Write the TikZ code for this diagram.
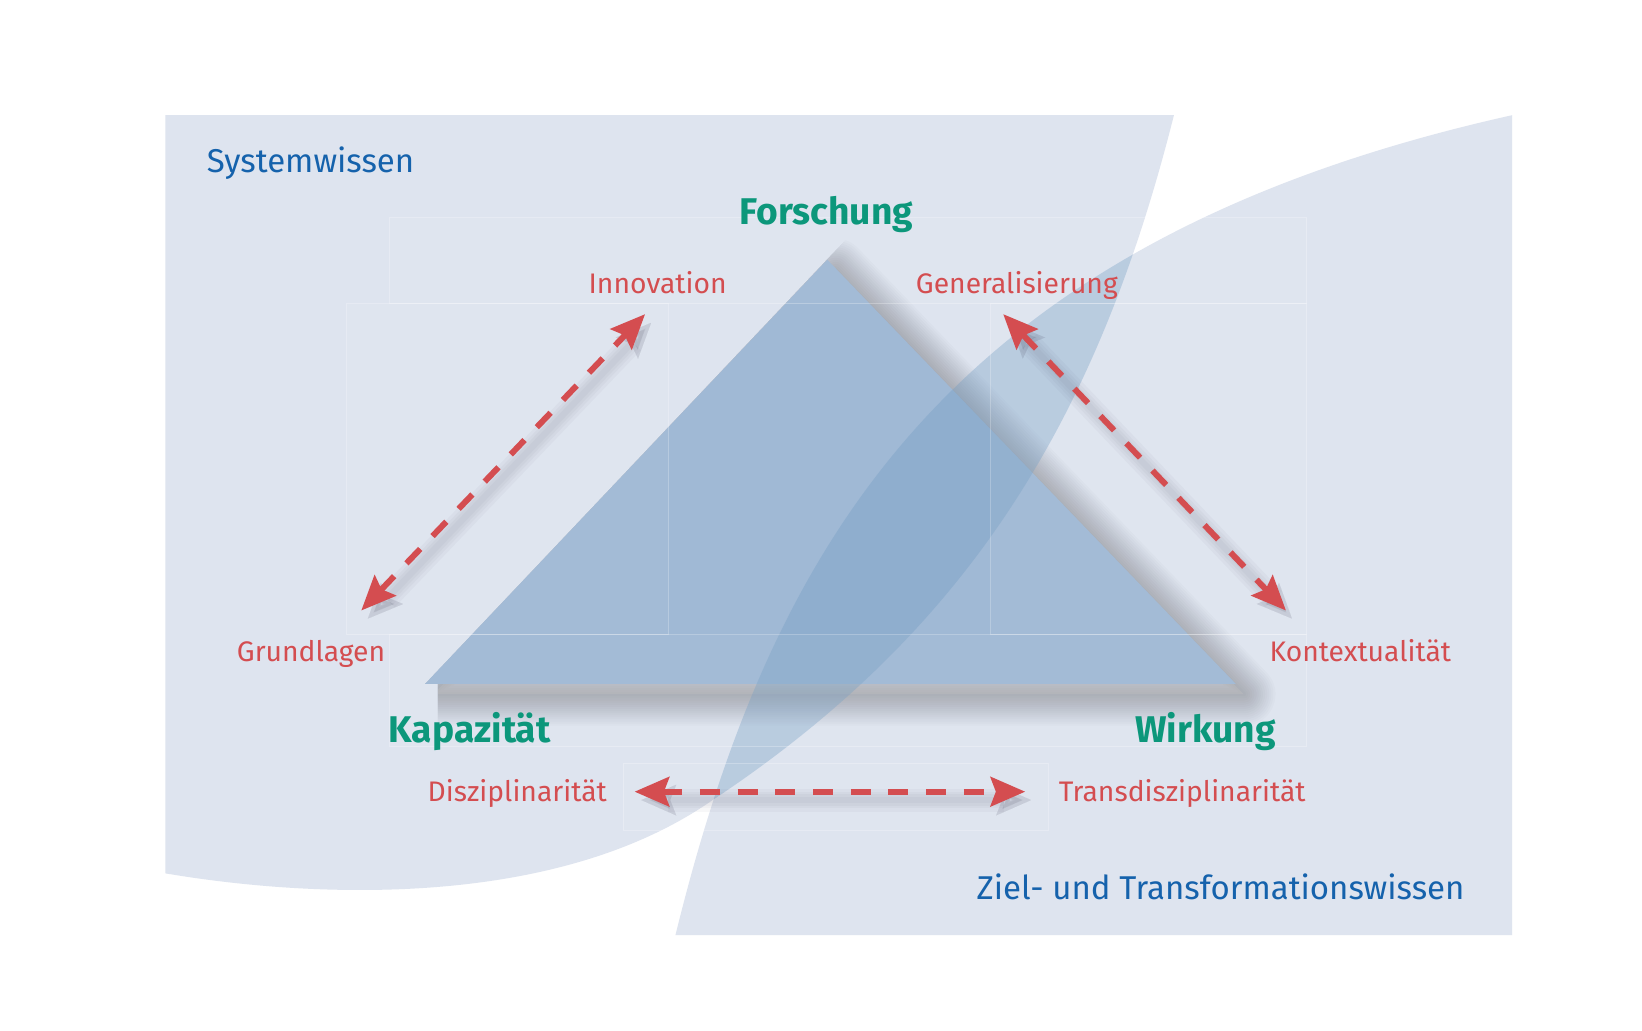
\documentclass[tikz,border=0pt]{standalone}
\usepackage{fontspec}
\setmainfont{Fira Sans}
\usetikzlibrary{arrows.meta}

\definecolor{panelblue}{HTML}{DEE4EF}
\definecolor{lensblue}{HTML}{729CC2}
\definecolor{triblue}{HTML}{A0B9D5}
\definecolor{labelred}{HTML}{D44D50}
\definecolor{headgreen}{HTML}{0C977B}
\definecolor{titleblue}{HTML}{1562AC}
\definecolor{shade}{HTML}{4A4A60}

\tikzset{
  system/.style={insert path={(158,110) -- (1121,110)
      .. controls (1048,400) and (925,602) .. (679,765)
      .. controls (530,868) and (300,858) .. (158,834) -- cycle}},
  target/.style={insert path={(1444,110) -- (1444,893) -- (645,893)
      .. controls (737,519) and (905,230) .. (1444,110) -- cycle}},
  ghost/.style={draw=white, draw opacity=.25, line width=.8pt, fill=white, fill opacity=.04},
  flowshade/.style={preaction={draw=shade, opacity=.04, line width=#1, transform canvas={shift={(6pt,-8pt)}}}},
  flow/.style={draw=labelred, line width=5.7pt, dash pattern=on 19pt off 17pt,
    >={Stealth[length=33pt,width=28pt,inset=5pt]}, <->,
    flowshade=22pt, flowshade=16pt, flowshade=11pt, flowshade=6pt},
  title/.style={text=titleblue, font=\fontsize{31.5}{34}\selectfont, anchor=base, inner sep=0pt},
  pole/.style={text=headgreen, font=\fontsize{35.5}{38}\selectfont\bfseries, anchor=base, inner sep=0pt},
  aspect/.style={text=labelred, font=\fontsize{27}{30}\selectfont, anchor=base, inner sep=0pt},
}

\begin{document}
\begin{tikzpicture}[x=1pt, y=-1pt]
\useasboundingbox (0,0) rectangle (1568,984);
\fill[white] (0,0) rectangle (1568,984);

\fill[panelblue, system];
\fill[panelblue, target];

\coordinate (apex) at (790,248);
\coordinate (base left) at (406,653);
\coordinate (base right) at (1180,653);
% soft shadow under the triangle, kept off its left side
\begin{scope}
  \clip (905,126) -- (base left) -- ++(12,0) -- ++(0,331) -- (1568,984) -- (1568,126) -- cycle;
  \foreach \w in {4,8,...,60}
    \draw[shade, opacity=.016, line width=\w pt, line join=round,
      transform canvas={shift={(8pt,-10pt)}}] (apex) -- (base right) -- (base left) -- cycle;
\end{scope}
\fill[triblue] (apex) -- (base right) -- (base left) -- cycle;

\begin{scope}
  \clip[system];
  \fill[lensblue, opacity=.36, target];
\end{scope}

\draw[ghost] (372,208) rectangle (1248,290);
\draw[ghost] (331,290) rectangle (638,606);
\draw[ghost] (946,290) rectangle (1248,606);
\draw[ghost] (372,606) rectangle (1248,713);
\draw[ghost] (595,729) rectangle (1001,793);

\coordinate (grundlagen tip) at (345,583);
\coordinate (innovation tip) at (616,300);
\coordinate (generalisierung tip) at (958,300);
\coordinate (kontext tip) at (1228,583);
\coordinate (diszi tip) at (606,756);
\coordinate (trans tip) at (979,756);
\draw[flow] (grundlagen tip) -- (innovation tip);
\draw[flow] (generalisierung tip) -- (kontext tip);
\draw[flow] (diszi tip) -- (trans tip);

\node[title] (systemwissen) at (296.5,165) {Systemwissen};
\node[title] (zielwissen) at (1165.5,859) {Ziel- und Transformationswissen};

\node[pole] (forschung) at (789,214) {Forschung};
\node[pole] (kapazitaet) at (448.5,709) {Kapazität};
\node[pole] (wirkung) at (1151,709) {Wirkung};

\node[aspect] (innovation) at (628,280) {Innovation};
\node[aspect] (generalisierung) at (971,280) {Generalisierung};
\node[aspect] (grundlagen) at (297,632) {Grundlagen};
\node[aspect] (kontextualitaet) at (1299,632) {Kontextualität};
\node[aspect] (disziplinaritaet) at (494,765) {Disziplinarität};
\node[aspect] (transdisziplinaritaet) at (1129,765) {Transdisziplinarität};
\end{tikzpicture}
\end{document}
